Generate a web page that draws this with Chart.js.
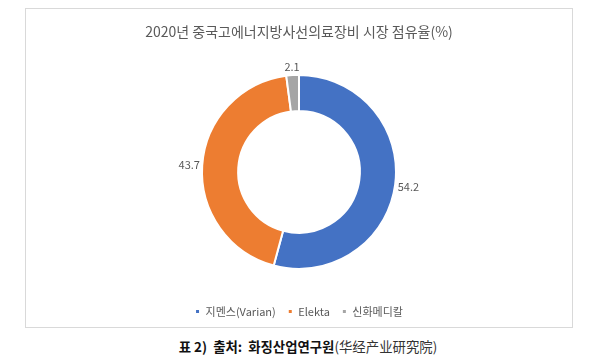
<!DOCTYPE html>
<html>
<head>
<meta charset="utf-8">
<script src="https://cdn.jsdelivr.net/npm/chart.js@4"></script>
<style>
  body { margin: 0; background: #fff; font-family: "Noto Sans CJK KR", sans-serif; }
  #box { position: absolute; left: 25px; top: 8px; width: 546px; height: 318px; border: 1px solid #d9d9d9; }
  #caption { position: absolute; left: 0; width: 616px; top: 336px; text-align: center; font-size: 13.4px; color: #111; }
  #caption b { font-weight: 700; }
  #caption span { font-weight: 400; color: #333; }
</style>
</head>
<body>
<div id="box"><canvas id="myChart" width="546" height="318"></canvas></div>
<div id="caption"><b>표 2)&nbsp; 출처:&nbsp; 화징산업연구원</b><span>(华经产业研究院)</span></div>
<script>
const labels = ['지멘스(Varian)', 'Elekta', '신화메디칼'];
const shares = [54.2, 43.7, 2.1];
const colors = ['#4472C4', '#ED7D31', '#A5A5A5'];
const titleText = '2020년 중국고에너지방사선의료장비 시장 점유율(%)';

// draws value labels just outside each slice
const outsideLabels = {
    id: 'outsideLabels',
    afterDatasetsDraw(chart) {
        const ctx = chart.ctx;
        const meta = chart.getDatasetMeta(0);
        ctx.save();
        ctx.font = '11px "Noto Sans CJK KR", sans-serif';
        ctx.fillStyle = '#595959';
        ctx.textAlign = 'center';
        ctx.textBaseline = 'middle';
        meta.data.forEach((arc, i) => {
            const p = arc.getProps(['x', 'y', 'startAngle', 'endAngle', 'outerRadius'], true);
            const mid = (p.startAngle + p.endAngle) / 2;
            const txt = String(chart.data.datasets[0].data[i]);
            const w = ctx.measureText(txt).width;
            const h = 11;
            const c = Math.cos(mid), s = Math.sin(mid);
            const r = p.outerRadius + 2 + Math.abs(c) * w / 2 + Math.abs(s) * h / 2;
            ctx.fillText(txt, p.x + c * r, p.y + s * r);
        });
        ctx.restore();
    }
};

var ctx = document.getElementById('myChart').getContext('2d');
var myChart = new Chart(ctx, {
    type: 'doughnut',
    data: {
        labels: labels,
        datasets: [{
            data: shares,
            backgroundColor: colors,
            borderColor: '#ffffff',
            borderWidth: 2,
            radius: 97,
            cutout: 76,
            hoverOffset: 0
        }]
    },
    options: {
        responsive: false,
        animation: false,
        layout: { padding: { top: 0, bottom: 0, left: 0, right: 0 } },
        plugins: {
            title: {
                display: true,
                text: titleText,
                color: '#595959',
                font: { family: '"Noto Sans CJK KR", sans-serif', size: 14, weight: 'normal' },
                padding: { top: 14, bottom: 10 }
            },
            legend: {
                position: 'bottom',
                labels: {
                    color: '#595959',
                    font: { family: '"Noto Sans CJK KR", sans-serif', size: 11 },
                    boxWidth: 5,
                    boxHeight: 5,
                    padding: 12
                }
            },
            tooltip: { enabled: false }
        }
    },
    plugins: [outsideLabels]
});
</script>
</body>
</html>
